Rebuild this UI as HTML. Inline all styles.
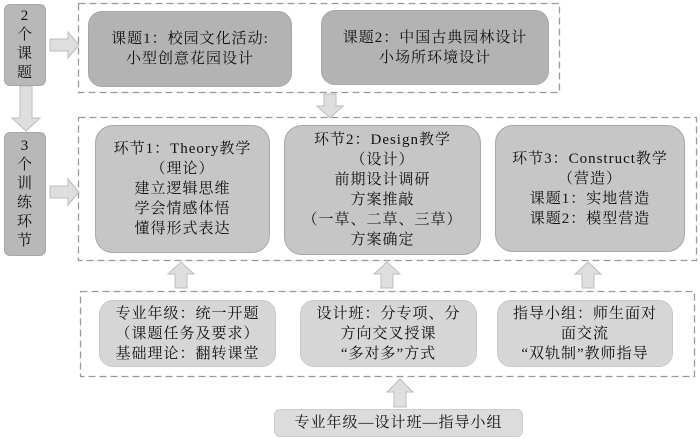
<!DOCTYPE html>
<html><head><meta charset="utf-8"><style>
body{margin:0;width:700px;height:439px;background:#fff;position:relative;overflow:hidden;font-family:"Liberation Serif","Noto Serif CJK SC",serif;color:#111}
.b{position:absolute;display:flex;align-items:center;justify-content:center;text-align:center;box-sizing:border-box;font-size:15px;letter-spacing:1px;line-height:20px;border-radius:14px;border:1px solid #a8a8a8;white-space:nowrap}
svg{position:absolute;left:0;top:0}
</style></head><body>
<svg width="700" height="439">
<g fill="none" stroke="#9a9a9a" stroke-width="1.3" stroke-dasharray="7,4">
<rect x="78.5" y="3.5" width="481" height="89"/>
<rect x="78.5" y="117.5" width="618" height="143"/>
<rect x="80.5" y="291.5" width="614" height="85"/>
</g>
<g fill="#dedede" stroke="#bdbdbd" stroke-width="1">
<polygon points="20,86 32,86 32,118 40,118 26,131 12,118 20,118"/>
<polygon points="50,39 68,39 68,32 79,45 68,58 68,51 50,51"/>
<polygon points="50,186 68,186 68,179 79,192 68,205 68,198 50,198"/>
<polygon points="324,94 336,94 336,106 343,106 330,118 317,106 324,106"/>
<polygon points="175,288 187,288 187,274 194,274 181,262 168,274 175,274"/>
<polygon points="381,288 393,288 393,274 400,274 387,262 374,274 381,274"/>
<polygon points="582,288 594,288 594,274 601,274 588,262 575,274 582,274"/>
<polygon points="394,407 406,407 406,392 413,392 400,379 387,392 394,392"/>
</g></svg>
<div class="b" style="left:4px;top:4px;width:42px;height:82px;background:#b8b8b8;border-radius:6px;line-height:19px">2<br>个<br>课<br>题</div>
<div class="b" style="left:4px;top:132px;width:42px;height:124px;background:#b8b8b8;border-radius:6px;line-height:19px">3<br>个<br>训<br>练<br>环<br>节</div>
<div class="b" style="left:88px;top:11px;width:204px;height:76px;background:#b3b3b3">课题1：校园文化活动:<br>小型创意花园设计</div>
<div class="b" style="left:321px;top:10px;width:228px;height:75px;background:#b3b3b3">课题2：中国古典园林设计<br>小场所环境设计</div>
<div class="b" style="left:95px;top:125px;width:175px;height:128px;background:#c6c6c6;border-radius:18px">环节1：Theory教学<br>（理论）<br>建立逻辑思维<br>学会情感体悟<br>懂得形式表达</div>
<div class="b" style="left:284px;top:125px;width:197px;height:130px;background:#c6c6c6;border-radius:18px">环节2：Design教学<br>（设计）<br>前期设计调研<br>方案推敲<br>（一草、二草、三草）<br>方案确定</div>
<div class="b" style="left:495px;top:125px;width:190px;height:127px;background:#c6c6c6;border-radius:18px">环节3：Construct教学<br>（营造）<br>课题1：实地营造<br>课题2：模型营造</div>
<div class="b" style="left:99px;top:300px;width:177px;height:67px;background:#d6d6d6;border-color:#c8c8c8">专业年级：统一开题<br>（课题任务及要求）<br>基础理论：翻转课堂</div>
<div class="b" style="left:300px;top:300px;width:177px;height:67px;background:#d6d6d6;border-color:#c8c8c8">设计班：分专项、分<br>方向交叉授课<br>“多对多”方式</div>
<div class="b" style="left:497px;top:300px;width:176px;height:67px;background:#d6d6d6;border-color:#c8c8c8">指导小组：师生面对<br>面交流<br>“双轨制”教师指导</div>
<div class="b" style="left:274px;top:409px;width:249px;height:28px;background:#dcdcdc;border-color:#cccccc;border-radius:6px">专业年级—设计班—指导小组</div>
</body></html>
